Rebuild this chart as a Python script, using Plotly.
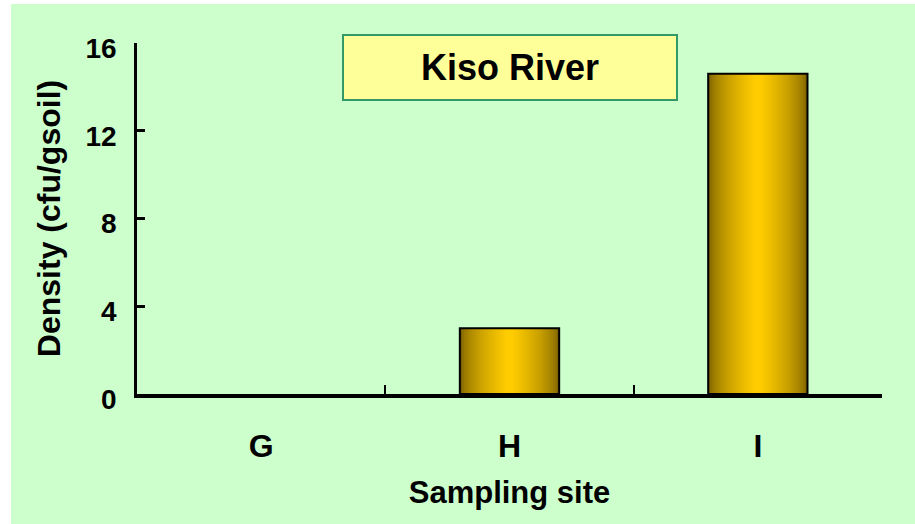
import plotly.graph_objects as go

# Bacterial density at each sampling site along the Kiso River
sites = ["G", "H", "I"]
density = [0.0, 3.0, 14.6]
y_ticks = [0, 4, 8, 12, 16]
panel_title = "Kiso River"
x_title = "Sampling site"
y_title = "Density (cfu/gsoil)"

BAR_WIDTH = 0.4
DARK = (0x7A, 0x60, 0x00)
BRIGHT = (0xFF, 0xCC, 0x00)
LAYERS = 24


def blend(t):
    r, g, b = (round(d + (c - d) * t) for d, c in zip(DARK, BRIGHT))
    return f"rgb({r},{g},{b})"


fig = go.Figure()

# Cylinder-like shading: overlaid bars, each narrower and brighter than the last
for k in range(LAYERS):
    frac = k / (LAYERS - 1)
    fig.add_trace(go.Bar(
        x=sites, y=density,
        width=BAR_WIDTH * (1 - 0.92 * frac),
        marker=dict(color=blend(frac ** 0.6), line=dict(width=0)),
        hoverinfo="skip", showlegend=False,
    ))

# Outline on top (empty bars get no outline)
fig.add_trace(go.Bar(
    x=sites, y=density, width=BAR_WIDTH,
    marker=dict(color="rgba(0,0,0,0)",
                line=dict(color="black", width=[2 if v > 0 else 0 for v in density])),
    hovertemplate="%{x}: %{y}<extra></extra>", showlegend=False,
))

font_family = "Arial, Liberation Sans, sans-serif"

fig.update_layout(
    width=915, height=524,
    barmode="overlay",
    paper_bgcolor="white",
    plot_bgcolor="rgba(0,0,0,0)",
    margin=dict(l=137, r=33, t=43, b=130),
    font=dict(family=font_family, color="black"),
    shapes=[dict(
        type="rect", xref="paper", yref="paper",
        x0=-126 / 745, x1=1 + 33 / 745, y0=-130 / 351, y1=1 + 39 / 351,
        fillcolor="#CCFFCC", line=dict(width=0), layer="below",
    )],
    annotations=[dict(
        text=panel_title, xref="paper", yref="paper",
        x=(510 - 137) / 745, y=(394 - 67.5) / 351,
        xanchor="center", yanchor="middle", showarrow=False,
        width=330, height=61, bgcolor="#FFFF99",
        bordercolor="#339966", borderwidth=2,
        font=dict(size=36, family=font_family, color="black", weight="bold"),
    )],
)

fig.update_xaxes(
    type="category", range=[-0.5, 2.5],
    showline=True, linecolor="black", linewidth=4,
    ticks="inside", tickson="boundaries", ticklen=9, tickwidth=2, tickcolor="black",
    tickfont=dict(size=32, family=font_family, weight="bold"),
    ticklabelstandoff=21,
    showgrid=False, zeroline=False,
    title=dict(text=x_title, font=dict(size=31, family=font_family, weight="bold"), standoff=19),
)
fig.update_yaxes(
    range=[0, 16], tickvals=y_ticks,
    showline=True, linecolor="black", linewidth=2.5,
    ticks="inside", ticklen=8, tickwidth=2.5, tickcolor="black",
    tickfont=dict(size=28, family=font_family, weight="bold"),
    ticklabelstandoff=12, ticklabelshift=5,
    showgrid=False, zeroline=False,
    title=dict(text=y_title, font=dict(size=32, family=font_family, weight="bold"), standoff=16),
)

fig.write_html("out.html")
